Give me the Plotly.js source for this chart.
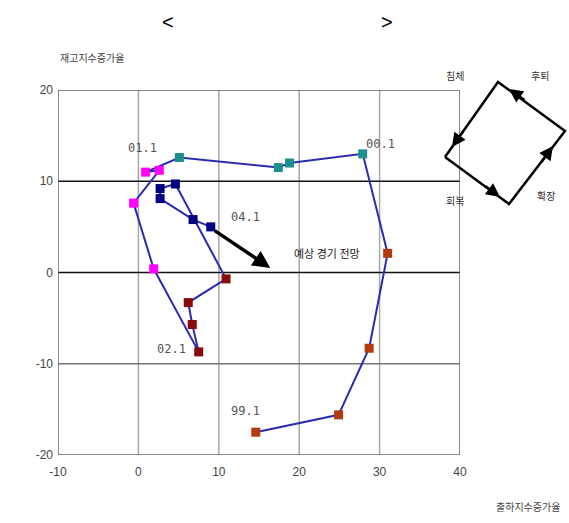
<!DOCTYPE html>
<html><head><meta charset="utf-8">
<script src="https://cdn.plot.ly/plotly-3.0.1.min.js"></script>
<style>html,body{margin:0;padding:0;background:#fff}#c{width:569px;height:523px}</style>
</head><body><div id="c"></div>
<script>
// Quarterly points (shipment index growth, inventory index growth)
const periods = ['99.1','99.2','99.3','99.4','00.1','00.2','00.3','00.4','01.1','01.2','01.3','01.4','02.1','02.2','02.3','02.4','03.1','03.2','03.3','03.4','04.1'];
const shipGrowth = [14.6,24.9,28.7,31.0, 27.9,18.8,17.4,5.1, 0.9,2.6,-0.6,1.9, 7.5,6.7,6.2,10.9, 4.6,2.7,2.7,6.8, 9.0];
const invGrowth  = [-17.5,-15.6,-8.3,2.1, 13.0,12.0,11.5,12.6, 11.0,11.2,7.6,0.4, -8.7,-5.7,-3.3,-0.7, 9.7,9.2,8.1,5.8, 5.0];
const yearGroups = ['99','00','01','02','03','04'];
const labeled = ['99.1','00.1','01.1','02.1','04.1'];
const forecastEnd = [16.4, 0.5];
const forecastText = '예상 경기 전망';
const xTicks = [-10,0,10,20,30,40];
const xTickText = ['-10','0','10','20','30','40'];
const yTicks = [-20,-10,0,10,20];
const yTickText = ['-20','-10','0','10','20'];
// schematic cycle diagram corners (left, bottom, right, top)
const cycleX = [445,509,565,498,445];
const cycleY = [157,204,131,82,157];
const cycleNames = ['침체','후퇴','회복','확장'];

const groupColor = {'99':'#b23a0e','00':'#1e8f8f','01':'#ff00ff','02':'#8a0a0a','03':'#000080','04':'#000080'};
const FONT = 'Liberation Sans, Arial, sans-serif';
const KFONT = 'Noto Sans CJK KR, sans-serif';

const traces = [{
  x: shipGrowth, y: invGrowth, mode:'lines', type:'scatter',
  line:{color:'#2b2bb0', width:2}, hoverinfo:'skip', showlegend:false
}];
yearGroups.forEach(g=>{
  const idx = periods.map((p,i)=>p.startsWith(g+'.')?i:-1).filter(i=>i>=0);
  traces.push({
    x: idx.map(i=>shipGrowth[i]), y: idx.map(i=>invGrowth[i]),
    mode:'markers', type:'scatter', showlegend:false,
    marker:{symbol:'square', size:9, color:groupColor[g]}
  });
});
traces.push({
  x: cycleX, y: cycleY, xaxis:'x2', yaxis:'y2', mode:'lines', type:'scatter',
  line:{color:'#000', width:2.5}, showlegend:false, hoverinfo:'skip'
});

const labelOffsets = {'99.1':[-1.3,2.3],'00.1':[2.2,1.1],'01.1':[-0.4,2.6],'02.1':[-3.4,0.3],'04.1':[4.3,1.1]};
const annotations = [];
labeled.forEach(p=>{
  const i = periods.indexOf(p);
  const o = labelOffsets[p];
  annotations.push({x:shipGrowth[i]+o[0], y:invGrowth[i]+o[1], text:p, showarrow:false,
    font:{family:'DejaVu Sans Mono, monospace', size:12, color:'#555'}});
});
const last = periods.length-1;
annotations.push({x:forecastEnd[0], y:forecastEnd[1], ax:shipGrowth[last]+0.3, ay:invGrowth[last]-0.3,
  xref:'x', yref:'y', axref:'x', ayref:'y', showarrow:true, arrowhead:2, arrowsize:1, arrowwidth:3.5, arrowcolor:'#000', text:''});
annotations.push({x:23.4, y:2.1, text:forecastText, showarrow:false, font:{family:KFONT, size:11, color:'#222'}});

// cycle diagram arrowheads (tip, tail)
const arrowTips = [[500,197,484,185],[553,146,540,164],[509,89,526,101],[452,147,464,130]];
arrowTips.forEach(a=>annotations.push({x:a[0], y:a[1], ax:a[2], ay:a[3], xref:'x2', yref:'y2', axref:'x2', ayref:'y2',
  showarrow:true, arrowhead:2, arrowsize:1.1, arrowwidth:2.5, arrowcolor:'#000', text:''}));
const namePos = [[455,75],[540,75],[455,200],[546,195]];
cycleNames.forEach((n,i)=>annotations.push({x:namePos[i][0], y:namePos[i][1], xref:'x2', yref:'y2', text:n, showarrow:false,
  font:{family:KFONT, size:10, color:'#333'}}));

// titles
const pa = (px,py,text,font)=>annotations.push({x:(px-58)/509, y:(455-py)/405, xref:'paper', yref:'paper',
  xanchor:'center', yanchor:'middle', text:text, showarrow:false, font:font});
pa(168,22,'<',{family:FONT, size:20, color:'#000'});
pa(387,22,'>',{family:FONT, size:20, color:'#000'});
pa(92,58,'재고지수증가율',{family:KFONT, size:10, color:'#444'});
pa(528,506,'출하지수증가율',{family:KFONT, size:10, color:'#444'});

const shapes = [];
[0,10,20,30].forEach(v=>shapes.push({type:'line', xref:'x', yref:'y', x0:v, x1:v, y0:-20, y1:20, line:{color:'#a8a8a8', width:1.5}, layer:'below'}));
[[10,'#111'],[0,'#111'],[-10,'#777']].forEach(h=>shapes.push({type:'line', xref:'x', yref:'y', x0:-10, x1:40, y0:h[0], y1:h[0], line:{color:h[1], width:1.5}, layer:'below'}));
shapes.push({type:'rect', xref:'x', yref:'y', x0:-10, x1:40, y0:-20, y1:20, line:{color:'#666', width:1.5}, fillcolor:'rgba(0,0,0,0)', layer:'below'});

const layout = {
  width:569, height:523, margin:{l:58, r:2, t:50, b:68},
  paper_bgcolor:'#fff', plot_bgcolor:'rgba(0,0,0,0)', showlegend:false,
  xaxis:{domain:[0,402/509], range:[-10,40], tickvals:xTicks, ticktext:xTickText, showgrid:false, zeroline:false,
    showline:false, ticks:'', ticklabelstandoff:8, tickfont:{family:FONT, size:12, color:'#444'}},
  yaxis:{domain:[0,365/405], range:[-20,20], tickvals:yTicks, ticktext:yTickText, showgrid:false, zeroline:false,
    showline:false, ticks:'', ticklabelstandoff:4, tickfont:{family:FONT, size:12, color:'#444'}},
  xaxis2:{domain:[(430-58)/509,1], range:[430,567], visible:false, anchor:'y2'},
  yaxis2:{domain:[(455-215)/405,(455-60)/405], range:[215,60], visible:false, anchor:'x2'},
  annotations:annotations, shapes:shapes
};
Plotly.newPlot('c', traces, layout, {displayModeBar:false, staticPlot:true});
</script></body></html>
